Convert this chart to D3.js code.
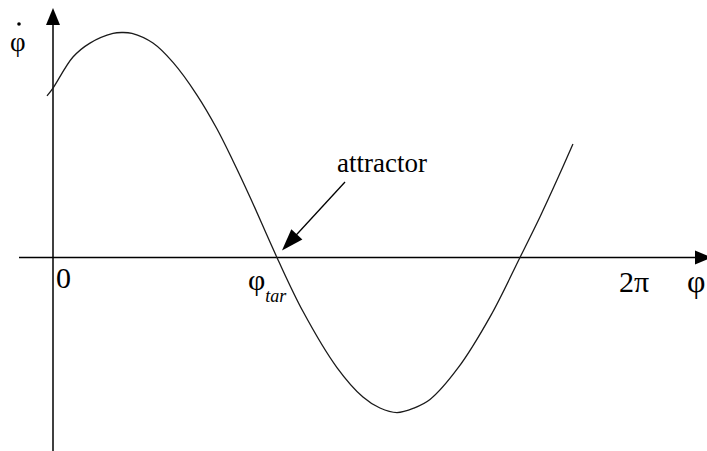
<!DOCTYPE html>
<html>
<head>
<meta charset="utf-8">
<script src="https://cdn.jsdelivr.net/npm/d3@7"></script>
</head>
<body style="margin:0">
<svg id="chart" width="707" height="451"></svg>
<script>
// Phase angle φ (radians) and phase velocity φ̇ (arbitrary units)
const phi = [-0.065, 0, 0.216, 0.400, 0.649, 0.746, 0.854, 1.081, 1.298, 1.557, 1.774, 1.947, 2.130,
             2.422, 2.704, 3.071, 3.352, 3.536, 3.720, 3.904, 4.077, 4.380, 4.737, 5.050, 5.266, 5.450, 5.623];
const phiDot = [0.718, 0.753, 0.891, 0.953, 0.996, 1.0, 0.996, 0.953, 0.867, 0.722, 0.571, 0.429, 0.269,
                0, -0.240, -0.489, -0.620, -0.669, -0.689, -0.669, -0.631, -0.491, -0.256, 0, 0.180, 0.344, 0.504];

// Stable fixed point (attractor) where φ̇ crosses zero going down
const phiTar = 2.422;

// Labels on the φ axis
const xTickValues = [0, 2 * Math.PI];
const xTickLabels = ["0", "2π"];

const svg = d3.select("#chart");

const x = d3.scaleLinear().domain([0, 2 * Math.PI]).range([53, 634]);
const y = d3.scaleLinear().domain([-1, 1]).range([482.5, 32.5]);
const x0 = x(0), y0 = y(0);
const tarX = x(phiTar);

// Text labels, all in a Times-like serif face
const serif = "Times New Roman";
const labels = [
  { x: 56, y: 288, size: 30, text: xTickLabels[0], anchor: "start" },
  { x: x(xTickValues[1]), y: 292, size: 30, text: xTickLabels[1], anchor: "middle" },
  { x: 687, y: 292, size: 32, text: "φ", anchor: "start" },
  { x: 10, y: 51, size: 27, text: "φ", anchor: "start" },
  { x: 337, y: 172, size: 27, text: "attractor", anchor: "start" }
];
labels.forEach(d => {
  svg.append("text")
    .attr("x", d.x).attr("y", d.y)
    .style("font-family", serif)
    .attr("font-size", d.size)
    .attr("text-anchor", d.anchor)
    .text(d.text);
});

// Overdot of φ̇
svg.append("circle").attr("cx", 19).attr("cy", 24).attr("r", 1.8).attr("fill", "#000");

// φ_tar label
const tarLabel = svg.append("text")
  .attr("x", tarX - 29).attr("y", 290)
  .style("font-family", serif)
  .attr("font-size", 30);
tarLabel.append("tspan").text("φ");
tarLabel.append("tspan").attr("dy", 12).attr("font-size", 18).style("font-style", "italic").text("tar");

// Filled arrowhead with its tip at (tx, ty), pointing along angle a
function arrowHead(tx, ty, a, len, half) {
  const bx = tx - len * Math.cos(a), by = ty - len * Math.sin(a);
  const nx = -Math.sin(a) * half, ny = Math.cos(a) * half;
  svg.append("path")
    .attr("d", `M${tx},${ty} L${bx + nx},${by + ny} L${bx - nx},${by - ny} Z`)
    .attr("fill", "#000");
}

// Axes
svg.append("line")
  .attr("x1", 19).attr("y1", y0).attr("x2", 700).attr("y2", y0)
  .attr("stroke", "#000").attr("stroke-width", 1.5);
arrowHead(712, y0, 0, 17, 7);
svg.append("line")
  .attr("x1", x0).attr("y1", 451).attr("x2", x0).attr("y2", 20)
  .attr("stroke", "#000").attr("stroke-width", 1.5);
arrowHead(x0, 8, -Math.PI / 2, 17, 7);

// Curve φ̇(φ)
const pts = phi.map((p, i) => [p, phiDot[i]]);
const line = d3.line()
  .x(d => x(d[0]))
  .y(d => y(d[1]))
  .curve(d3.curveCatmullRom.alpha(0.5));
svg.append("path")
  .datum(pts)
  .attr("d", line)
  .attr("fill", "none")
  .attr("stroke", "#1a1a1a")
  .attr("stroke-width", 1.3);

// Attractor arrow
const ax1 = 345, ay1 = 182, ax2 = tarX + 5, ay2 = y0 - 7;
const ang = Math.atan2(ay2 - ay1, ax2 - ax1);
svg.append("line")
  .attr("x1", ax1).attr("y1", ay1)
  .attr("x2", ax2 - 18 * Math.cos(ang)).attr("y2", ay2 - 18 * Math.sin(ang))
  .attr("stroke", "#000").attr("stroke-width", 1.3);
arrowHead(ax2, ay2, ang, 22, 7.5);
</script>
</body>
</html>
